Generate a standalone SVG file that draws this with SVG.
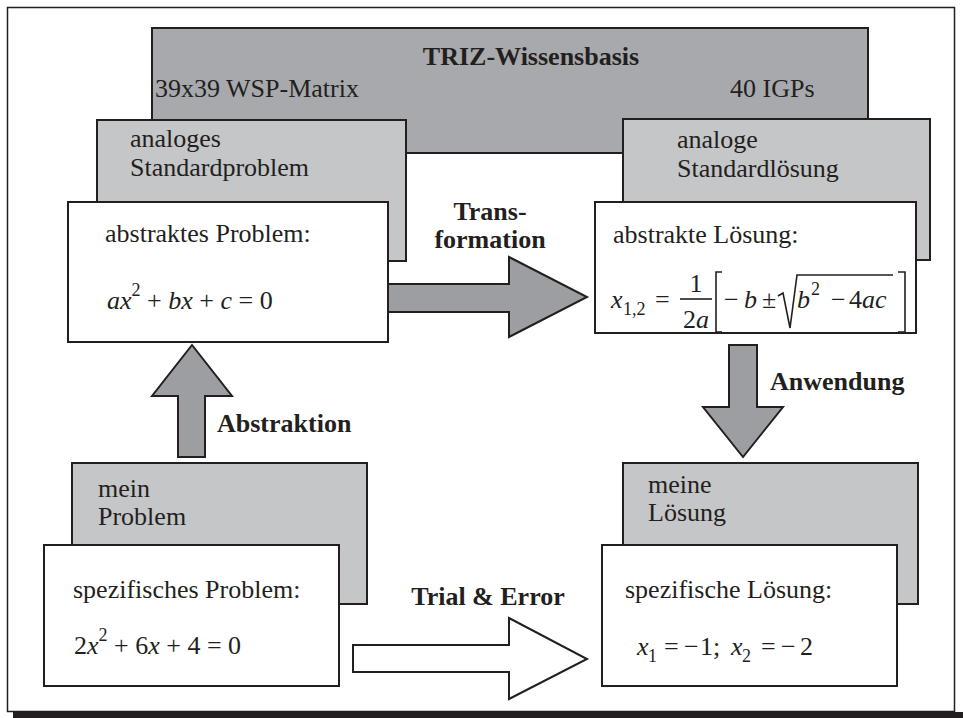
<svg xmlns="http://www.w3.org/2000/svg" width="963" height="718" viewBox="0 0 963 718">
<defs>
<style>
.t{font-family:"Liberation Serif","Times New Roman",serif;font-size:26px;fill:#231f20}
.b{font-weight:bold}
.i{font-style:italic}
.s{font-size:18px}
.box{stroke:#231f20;stroke-width:2}
.kb{fill:#a8a9ac}
.gb{fill:#c5c6c8}
.wb{fill:#ffffff}
.arr{fill:#9d9ea1;stroke:#231f20;stroke-width:2;stroke-linejoin:miter}
.arrw{fill:#ffffff;stroke:#231f20;stroke-width:2}
.ln{fill:none;stroke:#231f20;stroke-width:1.6}
</style>
</defs>
<rect x="0" y="0" width="963" height="718" fill="#ffffff"/>
<g id="frame">
<rect x="7.5" y="7.5" width="947" height="704" fill="none" stroke="#231f20" stroke-width="1.5"/>
<rect x="13" y="712" width="950" height="6" fill="#231f20"/>
</g>
<g id="triz">
<rect class="box kb" x="152" y="28" width="716" height="125"/>
<text class="t b" x="531" y="65" text-anchor="middle">TRIZ-Wissensbasis</text>
<text class="t" x="155" y="97">39x39 WSP-Matrix</text>
<text class="t" x="730" y="97">40 IGPs</text>
</g>
<g id="analog-problem">
<rect class="box gb" x="97" y="120" width="309" height="141"/>
<text class="t" x="130" y="147">analoges</text>
<text class="t" x="130" y="176">Standardproblem</text>
</g>
<g id="analog-loesung">
<rect class="box gb" x="623" y="119" width="307" height="141"/>
<text class="t" x="677" y="148">analoge</text>
<text class="t" x="677" y="177">Standardlösung</text>
</g>
<g id="mein-problem">
<rect class="box gb" x="72" y="463" width="295" height="141"/>
<text class="t" x="98" y="497">mein</text>
<text class="t" x="98" y="525">Problem</text>
</g>
<g id="meine-loesung">
<rect class="box gb" x="623" y="463" width="295" height="141"/>
<text class="t" x="648" y="493">meine</text>
<text class="t" x="648" y="521">Lösung</text>
</g>
<g id="abstraktes-problem">
<rect class="box wb" x="68" y="202" width="320" height="140"/>
<text class="t" x="105" y="242">abstraktes Problem:</text>
<text class="t" x="107" y="309"><tspan class="i">ax</tspan><tspan class="s" dy="-13">2</tspan><tspan dy="13"> + </tspan><tspan class="i">bx</tspan><tspan> + </tspan><tspan class="i">c</tspan><tspan> = 0</tspan></text>
</g>
<g id="abstrakte-loesung">
<rect class="box wb" x="595" y="202" width="321" height="131"/>
<text class="t" x="613" y="243">abstrakte Lösung:</text>
<text class="t i" x="611" y="308">x</text>
<text class="t s" x="623" y="315">1,2</text>
<text class="t" x="655" y="308">=</text>
<text class="t" x="696" y="292" text-anchor="middle">1</text>
<line class="ln" x1="680" y1="299" x2="712" y2="299"/>
<text class="t" x="696" y="328" text-anchor="middle">2<tspan class="i">a</tspan></text>
<path class="ln" d="M722,272 H716 V332 H722"/>
<text class="t" x="724" y="308">−</text>
<text class="t i" x="744" y="308">b</text>
<text class="t" x="762" y="308">±</text>
<path class="ln" d="M778,296 L783,293 L790,328 L797,275 H893"/>
<text class="t i" x="797" y="308">b</text>
<text class="t s" x="811" y="295">2</text>
<text class="t" x="831" y="308">−</text>
<text class="t" x="849" y="308">4<tspan class="i">ac</tspan></text>
<path class="ln" d="M898,272 H905 V332 H898"/>
</g>
<g id="spezifisches-problem">
<rect class="box wb" x="44" y="545" width="295" height="141"/>
<text class="t" x="73" y="598">spezifisches Problem:</text>
<text class="t" x="74" y="654">2<tspan class="i">x</tspan><tspan class="s" dy="-13">2</tspan><tspan dy="13"> + 6</tspan><tspan class="i">x</tspan><tspan> + 4 = 0</tspan></text>
</g>
<g id="spezifische-loesung">
<rect class="box wb" x="602" y="545" width="295" height="141"/>
<text class="t" x="625" y="598">spezifische Lösung:</text>
<text class="t i" x="637" y="655">x</text>
<text class="t s" x="648" y="662">1</text>
<text class="t" x="664" y="655">=</text>
<text class="t" x="684" y="655">−</text>
<text class="t" x="700" y="655">1;</text>
<text class="t i" x="731" y="655">x</text>
<text class="t s" x="742" y="662">2</text>
<text class="t" x="761" y="655">=</text>
<text class="t" x="781" y="655">−</text>
<text class="t" x="800" y="655">2</text>
</g>
<g id="connectors">
<polygon class="arr" points="388,284 509,284 509,257 587,297 509,337 509,312 388,312"/>
<polygon class="arr" points="178,457 178,396 152,396 192,345 232,396 205,396 205,457"/>
<polygon class="arr" points="729,345 757,345 757,407 783,407 743,457 703,407 729,407"/>
<polygon class="arrw" points="353,645 509,645 509,618 587,659 509,699 509,672 353,672"/>
</g>
<g id="labels">
<text class="t b" x="490" y="220" text-anchor="middle">Trans-</text>
<text class="t b" x="490" y="248" text-anchor="middle">formation</text>
<text class="t b" x="217" y="432">Abstraktion</text>
<text class="t b" x="770" y="390">Anwendung</text>
<text class="t b" x="488" y="605" text-anchor="middle">Trial &amp; Error</text>
</g>
</svg>
